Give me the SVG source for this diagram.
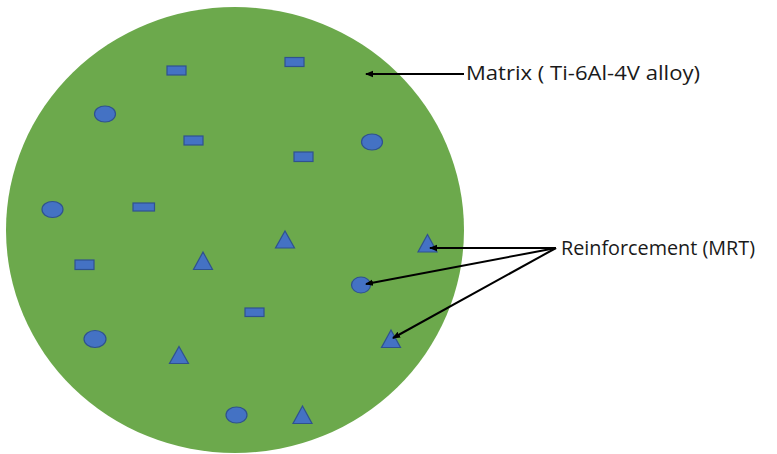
<svg xmlns="http://www.w3.org/2000/svg" width="777" height="454" viewBox="0 0 777 454">
<style>
.p{fill:#4472C4;stroke:#2F528F;stroke-width:1.2}
.c{stroke:#000;stroke-width:2;fill:none;marker-end:url(#ah)}
.t{font-family:"Open Sans","Liberation Sans",sans-serif;font-size:20px;fill:#1a1a1a}
</style>
<defs>
<marker id="ah" markerWidth="8" markerHeight="8" refX="7" refY="4" orient="auto" markerUnits="userSpaceOnUse">
<path d="M0,0.8 L8,4 L0,7.2 Z" fill="#000"/>
</marker>
</defs>
<rect width="777" height="454" fill="#fff"/>
<g id="matrix">
<ellipse cx="235" cy="230" rx="229" ry="223" fill="#6CA94C"/>
</g>
<g id="rects">
<rect class="p" x="167" y="66" width="19" height="9"/>
<rect class="p" x="285" y="57.5" width="19" height="9"/>
<rect class="p" x="184" y="136" width="19" height="9"/>
<rect class="p" x="294" y="152" width="19" height="9.5"/>
<rect class="p" x="133" y="203" width="21.5" height="8"/>
<rect class="p" x="75" y="260" width="19" height="9.5"/>
<rect class="p" x="245" y="308" width="19" height="8.5"/>
</g>
<g id="ellipses">
<ellipse class="p" cx="105" cy="114" rx="10.5" ry="8"/>
<ellipse class="p" cx="372" cy="142" rx="10.5" ry="8"/>
<ellipse class="p" cx="52.5" cy="209.5" rx="10.5" ry="8"/>
<ellipse class="p" cx="95" cy="339" rx="11" ry="8.5"/>
<ellipse class="p" cx="361" cy="285" rx="9.5" ry="8"/>
<ellipse class="p" cx="236.5" cy="415" rx="10.5" ry="8"/>
</g>
<g id="triangles">
<polygon class="p" points="285,231 294.5,248 275.5,248"/>
<polygon class="p" points="203,252 212.5,269.5 193.5,269.5"/>
<polygon class="p" points="427.5,234.5 437,252 418,252"/>
<polygon class="p" points="391,330 400.5,347.5 381.5,347.5"/>
<polygon class="p" points="179,346.5 188.5,363.5 169.5,363.5"/>
<polygon class="p" points="302.5,406 312,423.5 293,423.5"/>
</g>
<g id="connectors">
<line class="c" x1="464" y1="74" x2="366" y2="74"/>
<line class="c" x1="556" y1="248" x2="430" y2="248"/>
<line class="c" x1="556" y1="248" x2="366" y2="284"/>
<line class="c" x1="556" y1="248" x2="393" y2="338"/>
</g>
<g id="labels">
<text class="t" x="466" y="79.5" textLength="234" lengthAdjust="spacingAndGlyphs">Matrix ( Ti-6Al-4V alloy)</text>
<text class="t" x="561" y="254.5" textLength="194" lengthAdjust="spacingAndGlyphs">Reinforcement (MRT)</text>
</g>
</svg>
